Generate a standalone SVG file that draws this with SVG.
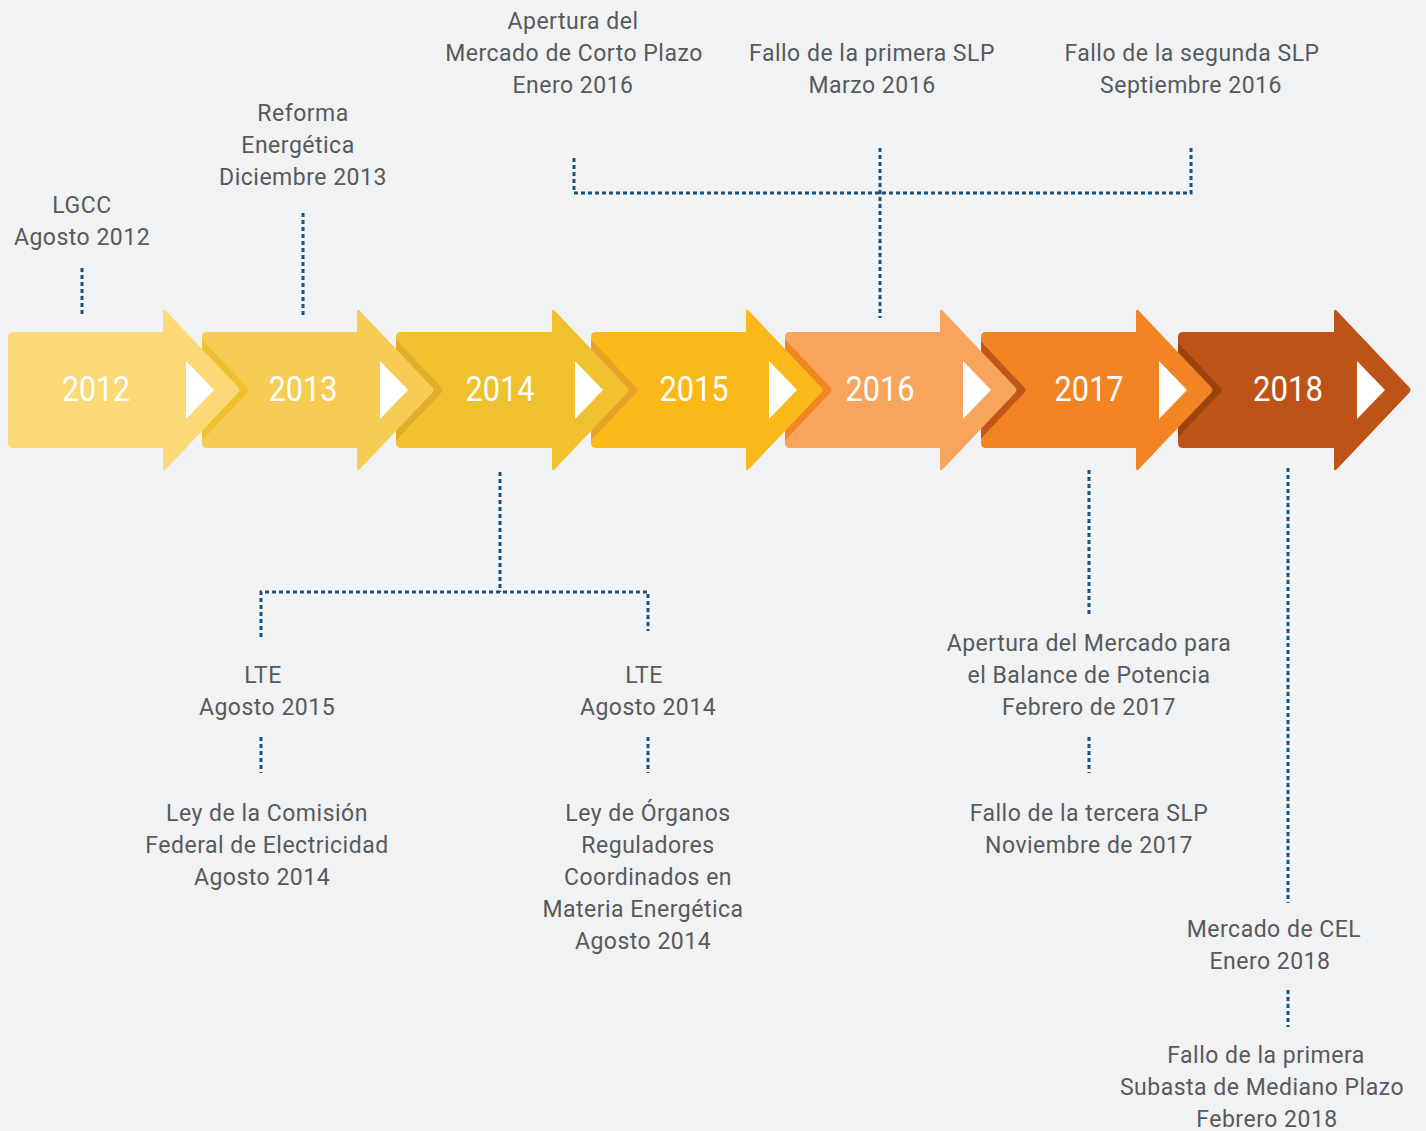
<svg xmlns="http://www.w3.org/2000/svg" width="1426" height="1131" viewBox="0 0 1426 1131">
<style>
.lbl{font-family:Roboto,"Liberation Sans",sans-serif;font-size:23px;fill:#58595B;text-anchor:middle;letter-spacing:0.5px}
.yr{font-family:Roboto,"Liberation Sans",sans-serif;font-size:35px;fill:#FFFFFF;text-anchor:middle}
.tri{fill:#FFFFFF}
.con{fill:none;stroke:#1B4F7E;stroke-width:3;stroke-dasharray:4 3}
</style>
<defs>
<clipPath id="c2013"><rect x="202" y="332" width="155" height="116" rx="5"/></clipPath>
<clipPath id="c2014"><rect x="396" y="332" width="156" height="116" rx="5"/></clipPath>
<clipPath id="c2015"><rect x="591" y="332" width="155" height="116" rx="5"/></clipPath>
<clipPath id="c2016"><rect x="785" y="332" width="155" height="116" rx="5"/></clipPath>
<clipPath id="c2017"><rect x="981" y="332" width="155" height="116" rx="5"/></clipPath>
<clipPath id="c2018"><rect x="1178" y="332" width="156" height="116" rx="5"/></clipPath>
</defs>
<rect x="0" y="0" width="1426" height="1131" fill="#F1F2F4"/>

<g id="connectors">
<path class="con" d="M82,268 V315"/>
<path class="con" d="M303,213 V318"/>
<path class="con" d="M574,158 V193 H1191 V148"/>
<path class="con" d="M880,148 V318"/>
<path class="con" d="M500,472 V592"/>
<path class="con" d="M261,637 V592 H648 V631"/>
<path class="con" d="M261,737 V773"/>
<path class="con" d="M648,737 V773"/>
<path class="con" d="M1089,470 V615"/>
<path class="con" d="M1089,737 V773"/>
<path class="con" d="M1288,468 V903"/>
<path class="con" d="M1288,990 V1027"/>
</g>

<g id="y2018">
<path fill="#BE5317" d="M1183,332 H1334 V312 Q1334,308 1337,311 L1409,387 Q1412,390 1409,393 L1337,469 Q1334,472 1334,468 V448 H1183 Q1178,448 1178,443 V337 Q1178,332 1183,332 Z"/>
<path clip-path="url(#c2018)" fill="#9C420D" d="M1145,312 Q1145,308 1148,311 L1220,387 Q1223,390 1220,393 L1148,469 Q1145,472 1145,468 Z"/>
<polygon class="tri" points="1357,361 1385,390 1357,419"/>
<text class="yr" x="1288" y="401" textLength="70" lengthAdjust="spacingAndGlyphs">2018</text>
</g>

<g id="y2017">
<path fill="#F38423" d="M986,332 H1136 V312 Q1136,308 1139,311 L1211,387 Q1214,390 1211,393 L1139,469 Q1136,472 1136,468 V448 H986 Q981,448 981,443 V337 Q981,332 986,332 Z"/>
<path clip-path="url(#c2017)" fill="#C0561A" d="M949,312 Q949,308 952,311 L1024,387 Q1027,390 1024,393 L952,469 Q949,472 949,468 Z"/>
<polygon class="tri" points="1159,361 1187,390 1159,419"/>
<text class="yr" x="1089" y="401" textLength="69" lengthAdjust="spacingAndGlyphs">2017</text>
</g>

<g id="y2016">
<path fill="#F7A45D" d="M790,332 H940 V312 Q940,308 943,311 L1015,387 Q1018,390 1015,393 L943,469 Q940,472 940,468 V448 H790 Q785,448 785,443 V337 Q785,332 790,332 Z"/>
<path clip-path="url(#c2016)" fill="#F28524" d="M755,312 Q755,308 758,311 L830,387 Q833,390 830,393 L758,469 Q755,472 755,468 Z"/>
<polygon class="tri" points="963,361 991,390 963,419"/>
<text class="yr" x="880" y="401" textLength="69" lengthAdjust="spacingAndGlyphs">2016</text>
</g>

<g id="y2015">
<path fill="#FBB919" d="M596,332 H746 V312 Q746,308 749,311 L821,387 Q824,390 821,393 L749,469 Q746,472 746,468 V448 H596 Q591,448 591,443 V337 Q591,332 596,332 Z"/>
<path clip-path="url(#c2015)" fill="#E8A129" d="M561,312 Q561,308 564,311 L636,387 Q639,390 636,393 L564,469 Q561,472 561,468 Z"/>
<polygon class="tri" points="769,361 797,390 769,419"/>
<text class="yr" x="694" y="401" textLength="69" lengthAdjust="spacingAndGlyphs">2015</text>
</g>

<g id="y2014">
<path fill="#EFC12E" d="M401,332 H552 V312 Q552,308 555,311 L627,387 Q630,390 627,393 L555,469 Q552,472 552,468 V448 H401 Q396,448 396,443 V337 Q396,332 401,332 Z"/>
<path clip-path="url(#c2014)" fill="#E1AD2A" d="M366,312 Q366,308 369,311 L441,387 Q444,390 441,393 L369,469 Q366,472 366,468 Z"/>
<polygon class="tri" points="575,361 603,390 575,419"/>
<text class="yr" x="500" y="401" textLength="69" lengthAdjust="spacingAndGlyphs">2014</text>
</g>

<g id="y2013">
<path fill="#F7CC55" d="M207,332 H357 V312 Q357,308 360,311 L432,387 Q435,390 432,393 L360,469 Q357,472 357,468 V448 H207 Q202,448 202,443 V337 Q202,332 207,332 Z"/>
<path clip-path="url(#c2013)" fill="#EFC030" d="M172,312 Q172,308 175,311 L247,387 Q250,390 247,393 L175,469 Q172,472 172,468 Z"/>
<polygon class="tri" points="380,361 408,390 380,419"/>
<text class="yr" x="303" y="401" textLength="69" lengthAdjust="spacingAndGlyphs">2013</text>
</g>

<g id="y2012">
<path fill="#FCD877" d="M13,332 H163 V312 Q163,308 166,311 L238,387 Q241,390 238,393 L166,469 Q163,472 163,468 V448 H13 Q8,448 8,443 V337 Q8,332 13,332 Z"/>
<polygon class="tri" points="186,361 214,390 186,419"/>
<text class="yr" x="96" y="401" textLength="68" lengthAdjust="spacingAndGlyphs">2012</text>
</g>

<g id="lgcc">
<text class="lbl" x="82" y="213">LGCC</text>
<text class="lbl" x="82" y="245">Agosto 2012</text>
</g>
<g id="reforma">
<text class="lbl" x="303" y="121">Reforma</text>
<text class="lbl" x="298" y="153">Energética</text>
<text class="lbl" x="303" y="185">Diciembre 2013</text>
</g>
<g id="mcp">
<text class="lbl" x="573" y="29">Apertura del</text>
<text class="lbl" x="574" y="61">Mercado de Corto Plazo</text>
<text class="lbl" x="573" y="93">Enero 2016</text>
</g>
<g id="slp1">
<text class="lbl" x="872" y="61">Fallo de la primera SLP</text>
<text class="lbl" x="872" y="93">Marzo 2016</text>
</g>
<g id="slp2">
<text class="lbl" x="1192" y="61">Fallo de la segunda SLP</text>
<text class="lbl" x="1191" y="93">Septiembre 2016</text>
</g>
<g id="lte2015">
<text class="lbl" x="263" y="683">LTE</text>
<text class="lbl" x="267" y="715">Agosto 2015</text>
</g>
<g id="lte2014">
<text class="lbl" x="644" y="683">LTE</text>
<text class="lbl" x="648" y="715">Agosto 2014</text>
</g>
<g id="lcfe">
<text class="lbl" x="267" y="821">Ley de la Comisión</text>
<text class="lbl" x="267" y="853">Federal de Electricidad</text>
<text class="lbl" x="262" y="885">Agosto 2014</text>
</g>
<g id="lorc">
<text class="lbl" x="648" y="821">Ley de Órganos</text>
<text class="lbl" x="648" y="853">Reguladores</text>
<text class="lbl" x="648" y="885">Coordinados en</text>
<text class="lbl" x="643" y="917">Materia Energética</text>
<text class="lbl" x="643" y="949">Agosto 2014</text>
</g>
<g id="mbp">
<text class="lbl" x="1089" y="651">Apertura del Mercado para</text>
<text class="lbl" x="1089" y="683">el Balance de Potencia</text>
<text class="lbl" x="1089" y="715">Febrero de 2017</text>
</g>
<g id="slp3">
<text class="lbl" x="1089" y="821">Fallo de la tercera SLP</text>
<text class="lbl" x="1089" y="853">Noviembre de 2017</text>
</g>
<g id="cel">
<text class="lbl" x="1274" y="937">Mercado de CEL</text>
<text class="lbl" x="1270" y="969">Enero 2018</text>
</g>
<g id="smp">
<text class="lbl" x="1266" y="1063">Fallo de la primera</text>
<text class="lbl" x="1262" y="1095">Subasta de Mediano Plazo</text>
<text class="lbl" x="1267" y="1127">Febrero 2018</text>
</g>
</svg>
